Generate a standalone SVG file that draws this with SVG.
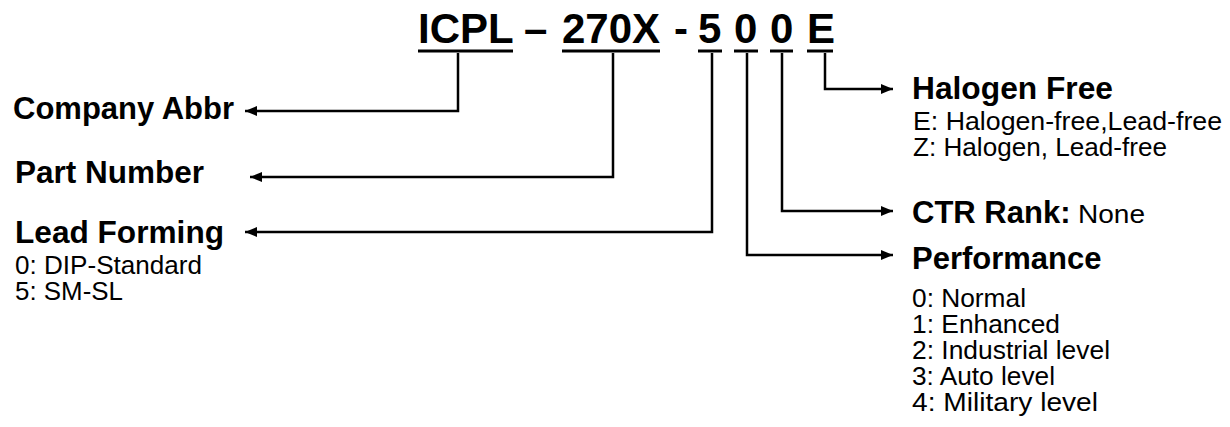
<svg xmlns="http://www.w3.org/2000/svg" width="1230" height="427" viewBox="0 0 1230 427">
<defs>
<style>
.t{font-family:"Liberation Sans",Arial,sans-serif;font-weight:bold;font-size:42px;fill:#000}
.h{font-family:"Liberation Sans",Arial,sans-serif;font-weight:bold;font-size:31px;fill:#000}
.r{font-family:"Liberation Sans",Arial,sans-serif;font-size:25px;fill:#000}
.ul{stroke:#000;stroke-width:3;fill:none}
.c{stroke:#000;stroke-width:2.5;fill:none}
</style>
<marker id="ah" viewBox="0 0 12 10" refX="12" refY="5" markerWidth="12" markerHeight="10" markerUnits="userSpaceOnUse" orient="auto">
<path d="M0,0 L12,5 L0,10 z" fill="#000"/>
</marker>
</defs>
<g id="title">
<text class="t" x="418" y="43">ICPL</text>
<text class="t" x="524" y="43">–</text>
<text class="t" x="562" y="43">270X</text>
<text class="t" x="674" y="43">-</text>
<text class="t" x="698" y="43">5</text>
<text class="t" x="734" y="43">0</text>
<text class="t" x="770" y="43">0</text>
<text class="t" x="807" y="43">E</text>
<line class="ul" x1="418" y1="51" x2="513" y2="51"/>
<line class="ul" x1="562" y1="51" x2="660" y2="51"/>
<line class="ul" x1="698" y1="51" x2="722" y2="51"/>
<line class="ul" x1="734" y1="51" x2="758" y2="51"/>
<line class="ul" x1="770" y1="51" x2="793" y2="51"/>
<line class="ul" x1="807" y1="51" x2="833" y2="51"/>
</g>
<g id="connectors">
<polyline class="c" points="458,53 458,111 245,111" marker-end="url(#ah)"/>
<polyline class="c" points="613,53 613,177 250,177" marker-end="url(#ah)"/>
<polyline class="c" points="712,53 712,232 245,232" marker-end="url(#ah)"/>
<polyline class="c" points="747,53 747,255 893,255" marker-end="url(#ah)"/>
<polyline class="c" points="782,53 782,211 893,211" marker-end="url(#ah)"/>
<polyline class="c" points="825,53 825,89 893,89" marker-end="url(#ah)"/>
</g>
<g id="company">
<text class="h" x="13" y="119">Company Abbr</text>
</g>
<g id="part">
<text class="h" x="15" y="183" textLength="189" lengthAdjust="spacingAndGlyphs">Part Number</text>
</g>
<g id="lead">
<text class="h" x="15" y="243" textLength="209" lengthAdjust="spacingAndGlyphs">Lead Forming</text>
<text class="r" x="15" y="274" textLength="187" lengthAdjust="spacingAndGlyphs">0: DIP-Standard</text>
<text class="r" x="15" y="300" textLength="108" lengthAdjust="spacingAndGlyphs">5: SM-SL</text>
</g>
<g id="halogen">
<text class="h" x="912" y="99" textLength="201" lengthAdjust="spacingAndGlyphs">Halogen Free</text>
<text class="r" x="913" y="130" textLength="309" lengthAdjust="spacingAndGlyphs">E: Halogen-free,Lead-free</text>
<text class="r" x="913" y="156" textLength="254" lengthAdjust="spacingAndGlyphs">Z: Halogen, Lead-free</text>
</g>
<g id="ctr">
<text class="h" x="912" y="223">CTR Rank:</text>
<text class="r" x="1078" y="223" textLength="67" lengthAdjust="spacingAndGlyphs">None</text>
</g>
<g id="performance">
<text class="h" x="912" y="269">Performance</text>
<text class="r" x="912" y="307" textLength="114" lengthAdjust="spacingAndGlyphs">0: Normal</text>
<text class="r" x="912" y="333" textLength="148" lengthAdjust="spacingAndGlyphs">1: Enhanced</text>
<text class="r" x="912" y="359" textLength="198" lengthAdjust="spacingAndGlyphs">2: Industrial level</text>
<text class="r" x="912" y="385" textLength="143" lengthAdjust="spacingAndGlyphs">3: Auto level</text>
<text class="r" x="912" y="411" textLength="186" lengthAdjust="spacingAndGlyphs">4: Military level</text>
</g>
</svg>
